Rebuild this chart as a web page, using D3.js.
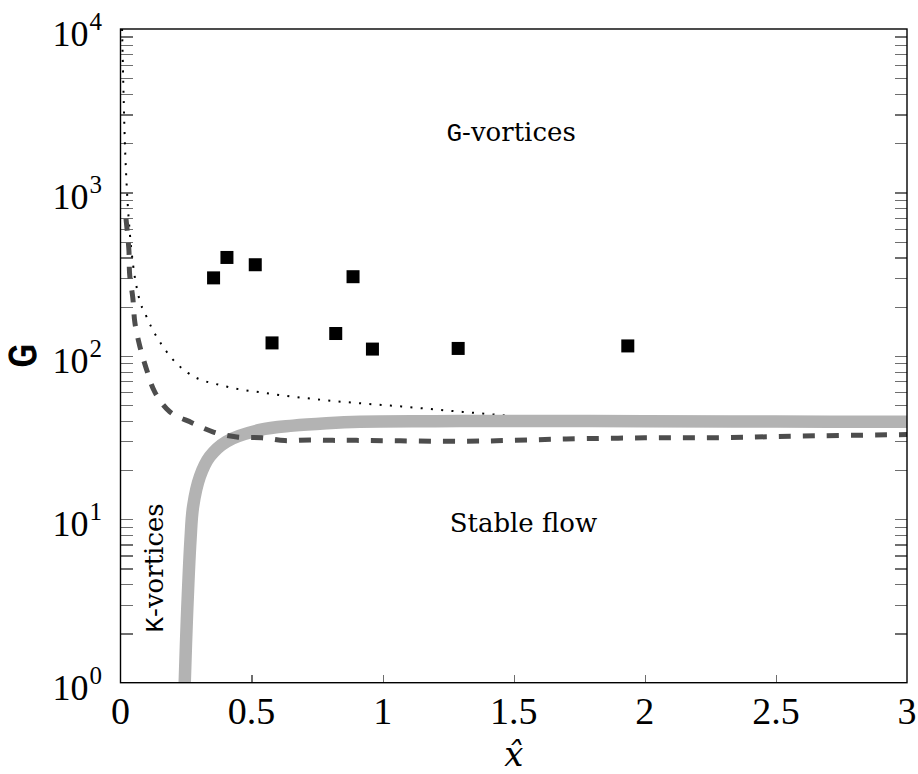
<!DOCTYPE html>
<html>
<head>
<meta charset="utf-8">
<script src="https://cdn.jsdelivr.net/npm/d3@7"></script>
<style>
  body { margin: 0; background: #fff; }
  svg { display: block; }
</style>
</head>
<body>
<svg id="chart" width="918" height="774"></svg>
<script>
// measured points (G-vortices observed)
const squareX = [0.355, 0.406, 0.514, 0.578, 0.821, 0.887, 0.961, 1.288, 1.935];
const squareG = [300, 400, 361, 120, 137, 305, 110, 111, 115];

// K-vortex boundary (thick grey)
const grayX = [0.245, 0.253, 0.267, 0.277, 0.3026, 0.3407, 0.4044, 0.5315, 0.6585, 0.786, 0.913, 1.2, 1.45, 2.0, 2.5, 3.0];
const grayG = [1, 2.42, 7.5, 12, 18.2, 24.2, 29.9, 35.2, 37.4, 38.7, 39.5, 39.8, 40, 39.8, 39.6, 39.5];

// dashed curve
const dashX = [0.021, 0.032, 0.035, 0.047, 0.055, 0.074, 0.100, 0.131, 0.188, 0.272, 0.352, 0.444, 0.539, 0.627, 0.722, 0.81, 0.9, 1.066, 1.3, 1.5, 1.7, 2.0, 2.3, 2.6, 3.0];
const dashG = [690, 446, 314, 226, 159, 114, 82, 60, 45.5, 39, 34.3, 31.9, 31.5, 30.3, 30.6, 30.4, 30.4, 30.2, 30.0, 30.4, 31.0, 31.5, 31.6, 32.3, 33.0];

// dotted curve
const dotX = [0.006, 0.0164, 0.025, 0.0355, 0.048, 0.0687, 0.099, 0.176, 0.257, 0.404, 0.557, 0.81, 1.072, 1.306, 1.428, 1.6];
const dotG = [10000, 2080, 1000, 566, 361, 233, 174, 106, 78.7, 64.9, 59.1, 53, 49, 45.4, 43.7, 41];

const xTicks = [0, 0.5, 1, 1.5, 2, 2.5, 3];
const xTickLabels = ["0", "0.5", "1", "1.5", "2", "2.5", "3"];
const yDecades = [0, 1, 2, 3, 4];

const svg = d3.select("#chart");
const pLeft = 120.5, pRight = 907, pTop = 29, pBottom = 682.7;

const x = d3.scaleLinear().domain([0, 3]).range([pLeft, pRight]);
const y = d3.scaleLog().domain([1, 1e4]).range([pBottom, pTop]);

svg.append("defs").append("clipPath").attr("id", "plotclip")
  .append("rect")
  .attr("x", pLeft).attr("y", pTop)
  .attr("width", pRight - pLeft).attr("height", pBottom - pTop);

// minor + major ticks (inside the frame)
const yTickVals = [];
for (let k = 0; k < 4; k++) {
  for (let m = 1; m < 10; m++) yTickVals.push(m * Math.pow(10, k));
}
const innerY = yTickVals.filter(v => v > 1 && v < 1e4);

function styleTicks(g) {
  g.select(".domain").remove();
  g.selectAll(".tick line")
    .attr("stroke", "#6e6e6e")
    .attr("stroke-width", 1.2)
    .attr("shape-rendering", "crispEdges");
  g.selectAll(".tick text").remove();
}

svg.append("g")
  .attr("transform", `translate(${pLeft},0)`)
  .call(d3.axisLeft(y).tickValues(innerY).tickSize(-12).tickFormat(""))
  .call(styleTicks);
svg.append("g")
  .attr("transform", `translate(${pRight},0)`)
  .call(d3.axisRight(y).tickValues(innerY).tickSize(-12).tickFormat(""))
  .call(styleTicks);
svg.append("g")
  .attr("transform", `translate(0,${pBottom})`)
  .call(d3.axisBottom(x).tickValues(xTicks.filter(v => v > 0 && v < 3)).tickSize(-8).tickFormat(""))
  .call(styleTicks);

const plot = svg.append("g").attr("clip-path", "url(#plotclip)");

const line = d3.line()
  .x(d => x(d[0]))
  .y(d => y(d[1]))
  .curve(d3.curveMonotoneX);

const smooth = d3.line()
  .x(d => x(d[0]))
  .y(d => y(d[1]))
  .curve(d3.curveCatmullRom.alpha(0.5));

// dotted
plot.append("path")
  .datum(d3.zip(dotX, dotG))
  .attr("d", line)
  .attr("fill", "none")
  .attr("stroke", "#000")
  .attr("stroke-width", 2)
  .attr("stroke-dasharray", "2,8.3");

// thick grey
plot.append("path")
  .datum(d3.zip(grayX, grayG))
  .attr("d", smooth)
  .attr("fill", "none")
  .attr("stroke", "#b3b3b3")
  .attr("stroke-width", 12.5);

// dashed
plot.append("path")
  .datum(d3.zip(dashX, dashG))
  .attr("d", smooth)
  .attr("fill", "none")
  .attr("stroke", "#4d4d4d")
  .attr("stroke-width", 5)
  .attr("stroke-dasharray", "12,12");

// squares
const sq = 13;
plot.selectAll(".sq")
  .data(d3.zip(squareX, squareG))
  .enter().append("rect")
  .attr("x", d => x(d[0]) - sq / 2)
  .attr("y", d => y(d[1]) - sq / 2)
  .attr("width", sq).attr("height", sq)
  .attr("fill", "#000");

// frame
svg.append("rect")
  .attr("x", pLeft).attr("y", pTop)
  .attr("width", pRight - pLeft).attr("height", pBottom - pTop)
  .attr("fill", "none").attr("stroke", "#000").attr("stroke-width", 1.4);

// x tick labels
svg.selectAll(".xlab")
  .data(xTicks)
  .enter().append("text")
  .attr("x", d => x(d))
  .attr("y", pBottom + 41)
  .attr("text-anchor", "middle")
  .style("font-family", "'Liberation Serif', serif")
  .style("font-size", "38px")
  .text((d, i) => xTickLabels[i]);

// y tick labels 10^k
const ylab = svg.selectAll(".ylab")
  .data(yDecades)
  .enter().append("text")
  .attr("x", 102)
  .attr("y", d => y(Math.pow(10, d)) + 17)
  .attr("text-anchor", "end")
  .style("font-family", "'Liberation Serif', serif")
  .style("font-size", "36px");
ylab.append("tspan").text("10");
ylab.append("tspan")
  .attr("dy", -16)
  .attr("dx", 1)
  .style("font-size", "25px")
  .text(d => d);

// axis labels
svg.append("text")
  .attr("transform", `translate(36,${y(100)}) rotate(-90)`)
  .attr("text-anchor", "middle")
  .style("font-family", "'Liberation Mono', monospace")
  .style("font-size", "40px")
  .attr("stroke", "#000")
  .attr("stroke-width", 1.2)
  .text("G");

svg.append("text")
  .attr("x", x(1.5)).attr("y", 766)
  .attr("text-anchor", "middle")
  .style("font-family", "'DejaVu Serif', serif")
  .style("font-style", "italic")
  .style("font-size", "34px")
  .text("x\u0302");

// region annotations
function annot(g, mono, rest) {
  g.style("font-size", "26px");
  g.append("tspan").style("font-family", "'Liberation Mono', monospace").text(mono);
  g.append("tspan").style("font-family", "'DejaVu Serif', serif").text(rest);
}

annot(svg.append("text")
  .attr("x", x(1.49)).attr("y", y(2070))
  .attr("text-anchor", "middle"), "G", "-vortices");

svg.append("text")
  .attr("x", x(1.537)).attr("y", y(8.37))
  .attr("text-anchor", "middle")
  .style("font-family", "'DejaVu Serif', serif")
  .style("font-size", "26px")
  .text("Stable flow");

annot(svg.append("text")
  .attr("transform", `translate(${x(0.161)},${y(5.04)}) rotate(-90)`)
  .attr("text-anchor", "middle"), "K", "-vortices");
</script>
</body>
</html>
